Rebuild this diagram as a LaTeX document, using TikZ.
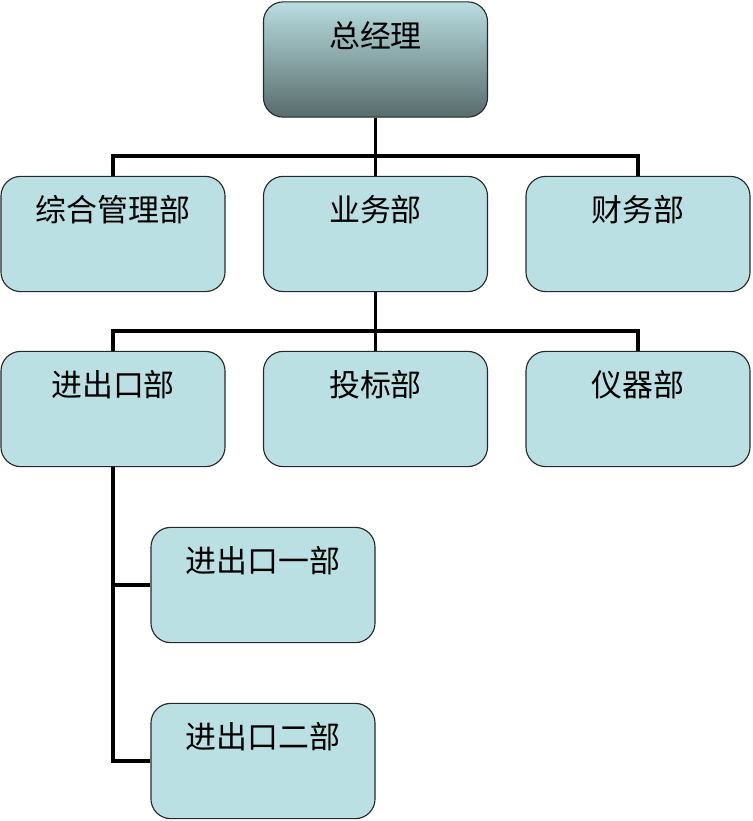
\documentclass[tikz,border=0pt]{standalone}
\usepackage{fontspec}
\newfontfamily\cjk{Noto Sans CJK SC}
\usepackage{tikz}
\usetikzlibrary{positioning, calc}
\definecolor{deptFill}{RGB}{187, 224, 227}
\definecolor{gmTop}{RGB}{184, 221, 224}
\definecolor{gmBottom}{RGB}{88, 108, 108}
\definecolor{boxLine}{RGB}{40, 40, 40}

\begin{document}
\begin{tikzpicture}[
    x=0.025cm, y=-0.025cm,
    dept/.style={rectangle, draw=boxLine, fill=deptFill, line width=0.8pt,
                 minimum width=5.6cm, minimum height=2.88cm,
                 rounded corners=14pt, inner sep=0pt},
    title/.style={font=\cjk\fontsize{22}{26}\selectfont, anchor=north,
                  inner sep=0pt, yshift=-14pt},
    conn/.style={draw=black, line width=2.8pt},
  ]
    \useasboundingbox (0,0) rectangle (752,821);

    % top level
    \node[dept, top color=gmTop, bottom color=gmBottom,
          label={[title]north:总经理}] (gm) at (375.5,59.5) {};

    % second level
    \node[dept, label={[title]north:综合管理部}] (zh) at (113,234) {};
    \node[dept, label={[title]north:业务部}] (yw) at (375.5,234) {};
    \node[dept, label={[title]north:财务部}] (cw) at (638,234) {};

    % third level
    \node[dept, label={[title]north:进出口部}] (jck) at (113,409) {};
    \node[dept, label={[title]north:投标部}] (tb) at (375.5,409) {};
    \node[dept, label={[title]north:仪器部}] (yq) at (638,409) {};

    % import / export sub-departments
    \node[dept, label={[title]north:进出口一部}] (jc1) at (263,585) {};
    \node[dept, label={[title]north:进出口二部}] (jc2) at (263,761) {};

    % connectors
    \draw[conn] (gm.south) -- ++(0,38) -| (zh.north);
    \draw[conn] (gm.south) -- ++(0,38) -| (cw.north);
    \draw[conn] (gm.south) -- (yw.north);

    \draw[conn] (yw.south) -- ++(0,39) -| (jck.north);
    \draw[conn] (yw.south) -- ++(0,39) -| (yq.north);
    \draw[conn] (yw.south) -- (tb.north);

    \draw[conn] (jck.south) |- (jc2.west);
    \draw[conn] (jck.south |- jc1.west) -- (jc1.west);
  \end{tikzpicture}
\end{document}
